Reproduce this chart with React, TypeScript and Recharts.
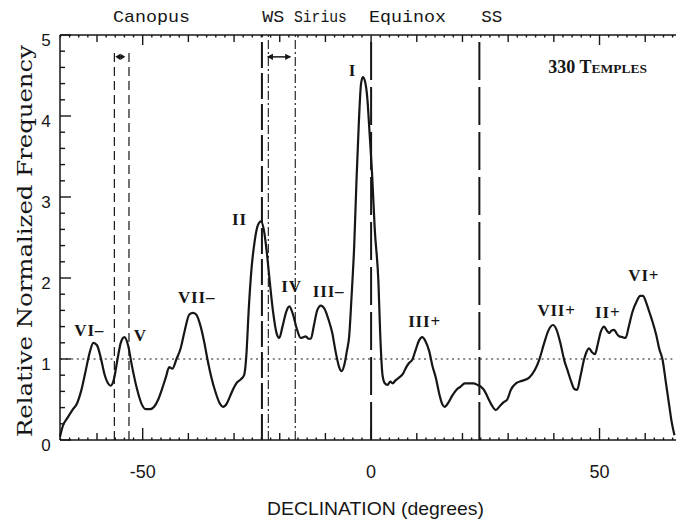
import React from "react"
import { LineChart, Line, XAxis, YAxis, ReferenceLine, ReferenceDot } from "recharts"

// declination (degrees) and relative normalized frequency
const declination = [
  -68.1, -67.5, -66.5, -65.4, -64.3, -63.5, -62.5, -61.6, -60.8, -60.0, -59.2, -58.3, -57.6, -57.0,
  -56.3, -55.5, -54.8, -54.0, -53.2, -52.3, -51.2, -50.2, -49.3, -48.4, -47.5, -46.6, -45.7, -44.9,
  -44.2, -43.5, -42.6, -41.7, -40.8, -39.8, -39.0, -38.3, -37.3, -36.5, -35.8, -35.0, -34.0, -33.2,
  -32.4, -31.6, -30.8, -30.1, -29.5, -28.5, -27.8, -27.3, -26.8, -26.2, -25.5, -24.8, -24.1, -23.5,
  -22.8, -22.3, -21.5, -20.7, -20.1, -19.4, -18.6, -17.9, -17.1, -16.3, -15.4, -14.8, -14.3, -13.7,
  -13.2, -12.5, -11.8, -11.0, -10.2, -9.4, -8.5, -7.8, -7.0, -6.5, -5.9, -5.3, -4.8, -4.3,
  -3.7, -3.2, -2.7, -2.2, -1.8, -1.3, -0.8, -0.4, 0.2, 0.8, 1.6, 2.0, 2.5, 3.0,
  3.6, 4.2, 4.7, 5.4, 6.1, 7.0, 7.7, 8.3, 9.0, 9.8, 10.5, 11.2, 11.9, 12.7,
  13.4, 14.2, 15.0, 15.6, 16.1, 16.9, 17.8, 18.7, 19.6, 20.5, 21.4, 22.4, 23.3, 24.0,
  24.7, 25.6, 26.5, 27.3, 28.2, 29.1, 29.8, 30.6, 31.7, 33.0, 34.6, 35.8, 36.8, 37.8,
  38.8, 39.8, 40.6, 41.5, 42.3, 43.0, 43.8, 44.5, 45.1, 45.8, 46.6, 47.1, 47.7, 48.4,
  49.0, 49.6, 50.3, 51.0, 51.6, 52.1, 52.6, 53.2, 53.8, 54.3, 55.0, 55.7, 56.4, 57.2,
  58.2, 58.9, 59.5, 60.2, 60.9, 61.6, 62.4, 63.1, 63.8, 64.5, 65.2, 65.8, 66.4,
]
const frequency = [
  0.04, 0.17, 0.27, 0.37, 0.46, 0.6, 0.85, 1.08, 1.2, 1.17, 1.02, 0.8, 0.7, 0.67,
  0.75, 1.0, 1.2, 1.27, 1.17, 0.9, 0.62, 0.44, 0.38, 0.38, 0.41, 0.5, 0.64, 0.78,
  0.9, 0.88, 1.0, 1.13, 1.35, 1.55, 1.57, 1.55, 1.4, 1.2, 0.99, 0.78, 0.58, 0.46,
  0.41, 0.45, 0.55, 0.64, 0.7, 0.75, 0.8, 1.05, 1.6, 2.1, 2.45, 2.65, 2.7, 2.6,
  2.3, 2.02, 1.6, 1.32, 1.26, 1.4, 1.58, 1.65, 1.55, 1.38, 1.26, 1.27, 1.28, 1.25,
  1.25, 1.42, 1.6, 1.66, 1.62, 1.5, 1.32, 1.1, 0.9, 0.85, 0.92, 1.1, 1.28, 1.75,
  2.4, 3.2, 3.9, 4.4, 4.48, 4.42, 4.2, 3.85, 3.3, 2.6, 1.95, 1.3, 0.8, 0.7,
  0.68, 0.72, 0.7, 0.74, 0.77, 0.82, 0.9, 0.95, 0.99, 1.12, 1.23, 1.27, 1.22, 1.1,
  0.92, 0.76, 0.55, 0.44, 0.41, 0.46, 0.55, 0.62, 0.66, 0.7, 0.7, 0.7, 0.68, 0.66,
  0.62, 0.52, 0.42, 0.37, 0.42, 0.47, 0.5, 0.62, 0.7, 0.73, 0.77, 0.86, 0.99, 1.18,
  1.35, 1.42, 1.36, 1.18, 0.98, 0.86, 0.72, 0.63, 0.62, 0.78, 0.99, 1.08, 1.13, 1.08,
  1.06, 1.18, 1.34, 1.4, 1.35, 1.32, 1.35, 1.36, 1.31, 1.28, 1.27, 1.26, 1.4, 1.58,
  1.72, 1.78, 1.78, 1.7, 1.58, 1.46, 1.3, 1.12, 0.99, 0.72, 0.45, 0.22, 0.06,
]

const peakNames = ["VI–", "V", "VII–", "II", "IV", "III–", "I", "III+", "VII+", "II+", "VI+"]
const peakLabelX = [-61.7, -50.5, -38.2, -28.8, -17.4, -9.3, -4.1, 11.7, 40.6, 51.8, 59.7]
const peakLabelY = [1.36, 1.3, 1.77, 2.73, 1.9, 1.84, 4.57, 1.47, 1.6, 1.58, 2.04]

const markerNames = ["Canopus", "WS", "Sirius", "Equinox", "SS"]
const markerLabelX = [-56.5, -23.85, -16.9, -0.45, 24.1]
const markerLabelWidth = [77, 22, 53, 77, 21]

const canopusX = [-56.2, -53.0]
const wsX = -23.9
const siriusX = [-22.5, -16.6]
const equinoxX = 0
const ssX = 23.7

const xLabels = [-50, 0, 50]
const yLabels = [0, 1, 2, 3, 4, 5]
const xTicks = Array.from({ length: 68 }, (_, i) => -68 + i * 2)
const yTicks = Array.from({ length: 26 }, (_, i) => i / 5)

const ink = "#161616"
const data = declination.map((d, i) => ({ d, f: frequency[i] }))
const isInt = (v: number) => Math.abs(v - Math.round(v)) < 1e-6

const BottomTick = (p: any) => {
  const v = p.payload.value
  const len = v % 50 === 0 ? 12 : v % 10 === 0 ? 7 : 2.5
  return (
    <g>
      <path d={`M${p.x},${p.y}L${p.x},${p.y - len}`} stroke={ink} strokeWidth={1.4} />
      {xLabels.includes(v) && (
        <text x={p.x} y={p.y + 38} textAnchor="middle" fontFamily="Liberation Sans" fontSize={18} fill={ink}>
          {v}
        </text>
      )}
    </g>
  )
}

const TopTick = (p: any) => {
  const v = p.payload.value
  const len = v % 50 === 0 ? 10 : v % 10 === 0 ? 7 : 2.5
  return <path d={`M${p.x},${p.y}L${p.x},${p.y + len}`} stroke={ink} strokeWidth={1.4} />
}

const LeftTick = (p: any) => {
  const v = p.payload.value
  const major = isInt(v)
  return (
    <g>
      <path d={`M${p.x},${p.y}L${p.x + (major ? 11 : 5)},${p.y}`} stroke={ink} strokeWidth={1.4} />
      {major && yLabels.includes(Math.round(v)) && (
        <text x={p.x - 14} y={p.y + 11} textAnchor="middle" fontFamily="Liberation Sans" fontSize={17} fill={ink}>
          {Math.round(v)}
        </text>
      )}
    </g>
  )
}

const RightTick = (p: any) => {
  const v = p.payload.value
  const major = isInt(v)
  return <path d={`M${p.x},${p.y}L${p.x - (major ? 9 : 3)},${p.y}`} stroke={ink} strokeWidth={1.4} />
}

const peakText = (name: string) => (p: any) => (
  <text x={p.cx} y={p.cy} dy={6} textAnchor="middle" fontFamily="Liberation Serif" fontWeight="bold"
    fontSize={17} letterSpacing={0.8} fill={ink}>
    {name}
  </text>
)

const markerText = (name: string, w: number) => (p: any) => (
  <text x={p.cx} y={p.cy - 13} textAnchor="start" fontFamily="Liberation Mono" fontSize={17}
    textLength={w} lengthAdjust="spacingAndGlyphs" fill={ink}>
    {name}
  </text>
)

const arrowHead = (dir: number, len: number) => (p: any) => (
  <path d={`M${p.cx},${p.cy} L${p.cx - dir * len},${p.cy - 3.2} L${p.cx - dir * len},${p.cy + 3.2} Z`} fill={ink} />
)

export default function App() {
  const arrowY = 4.73
  return (
    <div style={{ position: "absolute", left: 0, top: 0, background: "#fff" }}>
      <LineChart width={676} height={522} data={data} margin={{ top: 5, right: -30, bottom: 52, left: 30 }}>
        <XAxis dataKey="d" type="number" domain={[-68.05, 66.74]} ticks={xTicks} interval={0} height={30}
          tickSize={0} tickMargin={0} tickLine={false} axisLine={{ stroke: ink, strokeWidth: 1.5 }}
          tick={(p: any) => <BottomTick {...p} />}
          label={{
            content: () => (
              <text x={375.5} y={515} textAnchor="middle"
                fontFamily="Liberation Sans" fontSize={19} textLength={217} lengthAdjust="spacingAndGlyphs" fill={ink}>
                DECLINATION (degrees)
              </text>
            ),
          }} />
        <XAxis xAxisId="top" orientation="top" dataKey="d" type="number" domain={[-68.05, 66.74]} ticks={xTicks}
          interval={0} height={30} tickSize={0} tickMargin={0} tickLine={false}
          axisLine={{ stroke: ink, strokeWidth: 1.5 }} tick={(p: any) => <TopTick {...p} />} />
        <YAxis type="number" domain={[0, 5]} ticks={yTicks} interval={0} width={30} tickSize={0} tickMargin={0}
          tickLine={false} axisLine={{ stroke: ink, strokeWidth: 1.5 }} tick={(p: any) => <LeftTick {...p} />}
          label={{
            content: () => (
              <text x={25} y={241} transform="rotate(-90 25 241)" textAnchor="middle" dy={7}
                fontFamily="DejaVu Serif" fontSize={21} textLength={392} lengthAdjust="spacingAndGlyphs" fill={ink}>
                Relative Normalized Frequency
              </text>
            ),
          }} />
        <YAxis yAxisId="right" orientation="right" type="number" domain={[0, 5]} ticks={yTicks} interval={0}
          width={30} tickSize={0} tickMargin={0} tickLine={false} axisLine={false}
          tick={(p: any) => <RightTick {...p} />} />

        <ReferenceLine y={1} stroke={ink} strokeWidth={1.2} strokeDasharray="2 3.6" />
        {canopusX.map((x) => (
          <ReferenceLine key={"c" + x} segment={[{ x, y: 0 }, { x, y: 4.83 }]} stroke={ink} strokeWidth={1.2}
            strokeDasharray="9 5" />
        ))}
        <ReferenceLine x={wsX} stroke={ink} strokeWidth={2} strokeDasharray="26 5" />
        {siriusX.map((x) => (
          <ReferenceLine key={"s" + x} x={x} stroke={ink} strokeWidth={1.1} strokeDasharray="9 3 2 3" />
        ))}
        <ReferenceLine x={equinoxX} stroke={ink} strokeWidth={2} strokeDasharray="38 7" />
        <ReferenceLine x={ssX} stroke={ink} strokeWidth={2} strokeDasharray="38 7" />

        <ReferenceLine segment={[{ x: -55.5, y: arrowY }, { x: -54.3, y: arrowY }]} stroke={ink} strokeWidth={1.5} />
        <ReferenceDot x={-56.0} y={arrowY} ifOverflow="visible" shape={arrowHead(-1, 5)} />
        <ReferenceDot x={-53.8} y={arrowY} ifOverflow="visible" shape={arrowHead(1, 5)} />
        <ReferenceLine segment={[{ x: -22.6, y: arrowY }, { x: -17.7, y: arrowY }]} stroke={ink} strokeWidth={1.5} />
        <ReferenceDot x={-22.8} y={arrowY} ifOverflow="visible" shape={arrowHead(-1, 6)} />
        <ReferenceDot x={-17.5} y={arrowY} ifOverflow="visible" shape={arrowHead(1, 6)} />

        <Line dataKey="f" type="monotone" stroke={ink} strokeWidth={2.2} dot={false} isAnimationActive={false} />

        {peakNames.map((n, i) => (
          <ReferenceDot key={n} x={peakLabelX[i]} y={peakLabelY[i]} ifOverflow="visible" shape={peakText(n)} />
        ))}
        {markerNames.map((n, i) => (
          <ReferenceDot key={n} x={markerLabelX[i]} y={5} ifOverflow="visible" shape={markerText(n, markerLabelWidth[i])} />
        ))}
        <ReferenceDot x={49.6} y={4.6} ifOverflow="visible"
          shape={(p: any) => (
            <text x={p.cx} y={p.cy} dy={6} textAnchor="middle" fontFamily="Liberation Serif" fontWeight="bold"
              fontSize={18} fill={ink}>
              330 T<tspan fontSize={13.5}>EMPLES</tspan>
            </text>
          )} />
      </LineChart>
    </div>
  )
}
